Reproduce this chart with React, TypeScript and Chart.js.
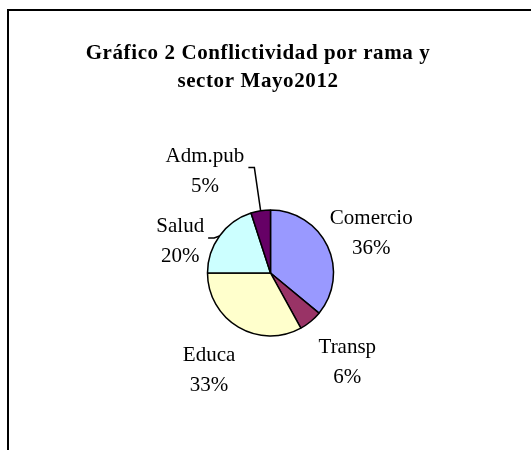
import React, { useEffect, useRef } from "react";
import { Chart, registerables } from "chart.js";

Chart.register(...registerables);

const TITLE_LINES = ["Gráfico 2 Conflictividad por rama y", "sector Mayo2012"];
const CATEGORIES = ["Comercio", "Transp", "Educa", "Salud", "Adm.pub"];
const VALUES = [36, 6, 33, 20, 5];
const COLORS = ["#9999FF", "#993366", "#FFFFCC", "#CCFFFF", "#660066"];

// label placement (layout only): angular shift from slice mid-angle (deg), distance in radii, leader line
const LABEL_ANGLE_SHIFT = [3.6, -1.1, 1.8, -16.5, -23.6];
const LABEL_DISTANCE = [1.72, 1.87, 1.82, 1.52, 1.93];
const LABEL_LEADER = [false, false, false, true, true];

const LABEL_FONT = '21px "Liberation Serif", "Times New Roman", serif';
const TITLE_FONT = 'bold 21px "Liberation Serif", "Times New Roman", serif';

const overlayPlugin = {
  id: "overlay",
  afterDraw(chart: any) {
    const ctx: CanvasRenderingContext2D = chart.ctx;
    ctx.save();
    // frame
    ctx.strokeStyle = "#000";
    ctx.lineWidth = 2;
    ctx.beginPath();
    ctx.moveTo(8, 450);
    ctx.lineTo(8, 10);
    ctx.lineTo(531, 10);
    ctx.stroke();

    // title
    ctx.fillStyle = "#000";
    ctx.textAlign = "center";
    ctx.textBaseline = "alphabetic";
    ctx.font = TITLE_FONT;
    (ctx as any).letterSpacing = "0.6px";
    TITLE_LINES.forEach((t, i) => ctx.fillText(t, 258, 59 + i * 28));

    // labels
    ctx.font = LABEL_FONT;
    (ctx as any).letterSpacing = "0px";
    const meta = chart.getDatasetMeta(0);
    const data: number[] = chart.data.datasets[0].data;
    const total = data.reduce((a, b) => a + b, 0);
    meta.data.forEach((arc: any, i: number) => {
      const p = arc.getProps(["x", "y", "startAngle", "endAngle", "outerRadius"], true);
      const mid = (p.startAngle + p.endAngle) / 2;
      const ang = mid + (LABEL_ANGLE_SHIFT[i] * Math.PI) / 180;
      const d = LABEL_DISTANCE[i] * p.outerRadius;
      const cx = p.x + Math.cos(ang) * d;
      const cy = p.y + Math.sin(ang) * d;
      const name = chart.data.labels[i];
      const pct = Math.round((data[i] / total) * 100) + "%";
      ctx.fillStyle = "#000";
      ctx.fillText(name, cx, cy - 9);
      ctx.fillText(pct, cx, cy + 21);
      if (LABEL_LEADER[i]) {
        const halfW = Math.max(ctx.measureText(name).width, ctx.measureText(pct).width) / 2;
        const ex = cx + halfW + 10;
        const ey = cy - 3;
        const px = p.x + Math.cos(mid) * p.outerRadius;
        const py = p.y + Math.sin(mid) * p.outerRadius;
        ctx.strokeStyle = "#000";
        ctx.lineWidth = 1.5;
        ctx.beginPath();
        ctx.moveTo(ex - 6, ey);
        ctx.lineTo(ex, ey);
        ctx.lineTo(px, py);
        ctx.stroke();
      }
    });
    ctx.restore();
  },
};

export default function App() {
  const ref = useRef<HTMLCanvasElement | null>(null);
  useEffect(() => {
    if (!ref.current) return;
    const chart = new Chart(ref.current, {
      type: "pie",
      data: {
        labels: CATEGORIES,
        datasets: [
          {
            data: VALUES,
            backgroundColor: COLORS,
            borderColor: "#000",
            borderWidth: 1.5,
          },
        ],
      },
      options: {
        animation: false,
        responsive: false,
        devicePixelRatio: 1,
        layout: {
          padding: { left: 206.75, right: 196.75, top: 209.25, bottom: 113.25 },
        },
        plugins: {
          legend: { display: false },
          title: { display: false },
          tooltip: { enabled: false },
        },
      },
      plugins: [overlayPlugin],
    });
    return () => chart.destroy();
  }, []);
  return (
    <div style={{ position: "absolute", left: 0, top: 0, width: 531, height: 450, background: "#fff" }}>
      <canvas ref={ref} width={531} height={450} style={{ width: 531, height: 450, display: "block" }} />
    </div>
  );
}
